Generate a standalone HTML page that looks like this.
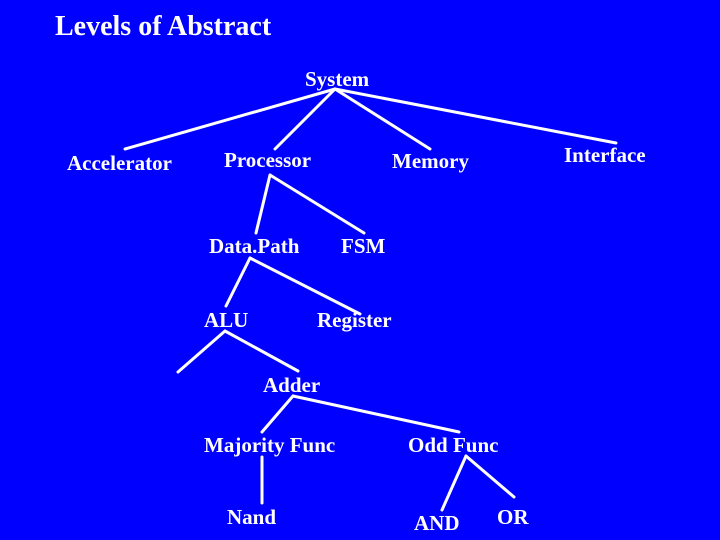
<!DOCTYPE html>
<html><head><style>
body{margin:0;background:#0000ff;}
svg{display:block}
text{font-family:"Liberation Serif",serif;font-weight:bold;fill:#fff;font-size:21px}
</style></head><body>
<svg width="720" height="540" viewBox="0 0 720 540">
<rect width="720" height="540" fill="#0000ff"/>
<text x="55" y="35" style="font-size:28px">Levels of Abstract</text>
<g stroke="#fff" stroke-width="3" fill="none" stroke-linecap="round">
<line x1="335" y1="89" x2="125" y2="149"/>
<line x1="335" y1="89" x2="275" y2="149"/>
<line x1="335" y1="89" x2="430" y2="149"/>
<line x1="335" y1="89" x2="616" y2="143"/>
<line x1="270" y1="175" x2="256" y2="233"/>
<line x1="270" y1="175" x2="364" y2="233"/>
<line x1="250" y1="258" x2="226" y2="306"/>
<line x1="250" y1="258" x2="360" y2="314"/>
<line x1="225" y1="331" x2="178" y2="372"/>
<line x1="225" y1="331" x2="298" y2="371"/>
<line x1="293" y1="396" x2="262" y2="432"/>
<line x1="293" y1="396" x2="459" y2="432"/>
<line x1="262" y1="457" x2="262" y2="503"/>
<line x1="466" y1="456" x2="442" y2="510"/>
<line x1="466" y1="456" x2="514" y2="497"/>
</g>
<text x="305" y="86">System</text>
<text x="67" y="170">Accelerator</text>
<text x="224" y="167">Processor</text>
<text x="392" y="168">Memory</text>
<text x="564" y="162">Interface</text>
<text x="209" y="253">Data.Path</text>
<text x="341" y="253">FSM</text>
<text x="204" y="327">ALU</text>
<text x="317" y="327">Register</text>
<text x="263" y="392">Adder</text>
<text x="204" y="452">Majority Func</text>
<text x="408" y="452">Odd Func</text>
<text x="227" y="524">Nand</text>
<text x="414" y="530">AND</text>
<text x="497" y="524">OR</text>
</svg>
</body></html>
